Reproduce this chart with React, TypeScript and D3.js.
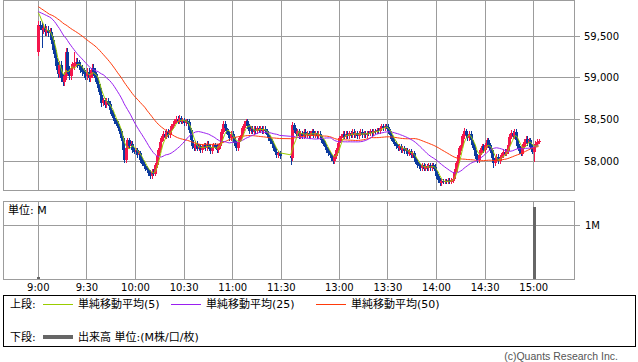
import React from "react";
import * as d3 from "d3";

// ---- data ----
const timeTicks = ["9:00", "9:30", "10:00", "10:30", "11:00", "11:30", "13:00", "13:30", "14:00", "14:30", "15:00"];
const priceTicks = [58000, 58500, 59000, 59500];
const volumeTicks = [1];

// closes of the previous session (feed the moving averages only)
const prevCloses = [
  60260, 60240, 60250, 60220, 60230, 60210, 60220,
  59800, 59780, 59770, 59790, 59810, 59800, 59780, 59770, 59790, 59800, 59790, 59780, 59800, 59790, 59780, 59790, 59800, 59790,
  59790, 59800, 59810, 59800, 59790, 59780, 59790, 59800, 59790, 59780, 59790, 59800, 59810, 59800, 59790, 59780, 59790, 59800, 59790, 59780,
  59810, 59820, 59815, 59825,
];

const firstOpen = 59310;

// 1-minute closes, 9:00 - 11:29
const closeAM = [
  59630, 59620, 59570, 59595, 59550, 59570, 59535, 59550, 59450, 59330,
  59235, 59140, 59045, 59150, 58995, 58950, 59020, 59310, 59090, 59020,
  59115, 59140, 59175, 59190, 59165, 59140, 59105, 59070, 59045, 59020,
  59070, 58995, 59045, 59115, 59070, 58995, 58925, 58875, 58790, 58695,
  58730, 58670, 58720, 58685, 58610, 58565, 58515, 58480, 58445, 58395,
  58360, 58275, 58130, 58010, 58155, 58250, 58180, 58205, 58130, 58110,
  58130, 58070, 58095, 58010, 57965, 57940, 57915, 57890, 57855, 57820,
  57870, 57845, 57950, 58060, 58130, 58230, 58275, 58325, 58290, 58350,
  58310, 58370, 58420, 58445, 58470, 58505, 58480, 58515, 58470, 58490,
  58455, 58480, 58470, 58370, 58250, 58180, 58155, 58205, 58145, 58180,
  58130, 58170, 58190, 58155, 58205, 58170, 58120, 58155, 58190, 58170,
  58130, 58180, 58215, 58350, 58445, 58395, 58360, 58310, 58275, 58325,
  58290, 58215, 58155, 58230, 58275, 58310, 58395, 58445, 58480, 58420,
  58360, 58385, 58350, 58385, 58360, 58395, 58370, 58395, 58360, 58385,
  58360, 58310, 58275, 58240, 58205, 58155, 58110, 58070, 58095, 58060,
];

// 1-minute closes, 12:30 onwards
const closePM = [
  58035, 58430, 58370, 58325, 58360, 58300, 58335, 58300, 58350, 58310,
  58335, 58300, 58325, 58360, 58310, 58335, 58300, 58325, 58300, 58250,
  58205, 58170, 58130, 58095, 58070, 58035, 58000, 58060, 58130, 58215,
  58275, 58300, 58325, 58290, 58325, 58300, 58335, 58310, 58350, 58310,
  58335, 58300, 58325, 58350, 58310, 58335, 58310, 58335, 58335, 58360,
  58335, 58360, 58350, 58370, 58360, 58395, 58420, 58395, 58420, 58410,
  58360, 58310, 58265, 58230, 58205, 58180, 58155, 58180, 58130, 58155,
  58120, 58130, 58085, 58120, 58070, 58095, 58035, 57990, 57950, 57940,
  57915, 57950, 57905, 57940, 57915, 57950, 57915, 57950, 57930, 57880,
  57820, 57770, 57735, 57760, 57750, 57760, 57750, 57770, 57750, 57770,
  57785, 57870, 57975, 58070, 58155, 58190, 58300, 58360, 58310, 58275,
  58325, 58250, 58190, 58130, 58060, 58010, 58070, 58130, 58180, 58130,
  58190, 58250, 58190, 58130, 58035, 57975, 58010, 58050, 58000, 58035,
  58070, 58110, 58085, 58120, 58190, 58290, 58335, 58300, 58350, 58250,
  58180, 58120, 58085, 58170, 58230, 58265, 58215, 58250, 58170, 58110,
  58170, 58205, 58230, 58240,
];

// visible spikes: [minute index, high, low]
const wicksAM = [
  [0, 59640, 59300], [2, 59600, 59355], [17, 59330, 59010], [22, 59310, 59140],
  [53, 58130, 57975], [69, 57890, 57800], [87, 58550, 58470], [114, 58480, 58350], [128, 58505, 58420],
];
const wicksPM = [
  [0, 58070, 57950], [1, 58470, 58030], [26, 58040, 57975], [92, 57770, 57700],
  [107, 58395, 58290], [125, 58040, 57915], [136, 58370, 58290], [150, 58180, 57990],
];
// typical shadow length (yen) by stretch: [from minute, to minute, shadow]
const shadowAM = [[0, 39, 45], [40, 149, 30]];
const shadowPM = [[0, 153, 30]];

const volumeTimes = ["9:00", "15:00"];
const volumeValues = [0.03, 1.36]; // in M

const maPeriods = [5, 25, 50];
const maLabels = ["単純移動平均(5)", "単純移動平均(25)", "単純移動平均(50)"];

// ---- layout ----
const W = 638, H = 362;
const L = 3.5, R = 574.5;
const MT = 0.5, MB = 190.5;
const VT = 201.5, VB = 279.5;
const PM_SLOT = 155.8; // position of 12:30 on the minute axis
const COLORS = { up: "#f4164c", down: "#0b3a9e", ma: ["#99cc00", "#9a1ff0", "#ff3a0a"], grid: "#9c9c9c", vol: "#666666" };
const FONT = "'DejaVu Sans', 'Noto Sans CJK JP', sans-serif";

function slotOf(t: string) {
  const [h, m] = t.split(":").map(Number);
  const mins = h * 60 + m;
  return mins < 720 ? mins - 540 : PM_SLOT + mins - 750;
}

const x = d3.scaleLinear().domain([0, 150]).range([38.3, 281.3]);
const y = d3.scaleLinear().domain([57652, 59932]).range([190, 0]);
const yv = d3.scaleLinear().domain([0, 1.47]).range([279, 201]);

type Candle = { slot: number; o: number; c: number; h: number; l: number };

function buildCandles(): Candle[] {
  const out: Candle[] = [];
  let prev = firstOpen;
  const add = (closes: number[], wicks: number[][], shadows: number[][], base: number) => {
    closes.forEach((c, i) => {
      const o = prev;
      const w = wicks.find((k) => k[0] === i);
      const s = shadows.find((k) => i >= k[0] && i <= k[1]);
      const sh = s ? s[2] : 0;
      const h = Math.max(Math.max(o, c) + sh, w ? w[1] : -Infinity);
      const l = Math.min(Math.min(o, c) - sh, w ? w[2] : Infinity);
      out.push({ slot: base + i, o, c, h, l });
      prev = c;
    });
  };
  add(closeAM, wicksAM, shadowAM, 0);
  add(closePM, wicksPM, shadowPM, PM_SLOT);
  return out;
}

export default function App() {
  const candles = buildCandles();
  const all = [...prevCloses, ...closeAM, ...closePM];
  const off = prevCloses.length;
  const maSeries = maPeriods.map((n) =>
    candles.map((d, i) => {
      const j = i + off;
      return { slot: d.slot, v: d3.mean(all.slice(j - n + 1, j + 1)) as number };
    })
  );
  const line = d3
    .line<{ slot: number; v: number }>()
    .x((d) => x(d.slot))
    .y((d) => y(d.v));

  const snap = (v: number) => Math.round(v - 0.5) + 0.5;

  return (
    <svg width={W} height={H} style={{ position: "absolute", left: 0, top: 0, background: "#fff" }} fontFamily={FONT}>
      <rect x={0} y={0} width={W} height={H} fill="#fff" />
      {/* main panel grid */}
      {timeTicks.map((t) => (
        <line key={"vg" + t} x1={snap(x(slotOf(t)))} x2={snap(x(slotOf(t)))} y1={MT} y2={MB} stroke={COLORS.grid} />
      ))}
      {priceTicks.map((p) => (
        <g key={"pg" + p}>
          <line x1={L} x2={580} y1={snap(y(p))} y2={snap(y(p))} stroke={COLORS.grid} />
          <text x={584} y={snap(y(p))} dy="0.35em" fontSize={10} fill="#000">
            {d3.format(",")(p)}
          </text>
        </g>
      ))}
      <rect x={L} y={MT} width={R - L} height={MB - MT} fill="none" stroke={COLORS.grid} />

      {/* candles */}
      <g shapeRendering="crispEdges">
        {candles.map((d, i) => {
          const up = d.c > d.o;
          const col = up ? COLORS.up : COLORS.down;
          const cx = Math.round(x(d.slot));
          const top = Math.round(y(Math.max(d.o, d.c)));
          const bot = Math.round(y(Math.min(d.o, d.c)));
          return (
            <g key={"c" + i}>
              <rect x={cx} y={Math.round(y(d.h))} width={1} height={Math.max(1, Math.round(y(d.l)) - Math.round(y(d.h)))} fill={col} />
              <rect x={cx - 1} y={top} width={3} height={Math.max(1, bot - top)} fill={col} />
            </g>
          );
        })}
      </g>

      {/* moving averages */}
      {[2, 1, 0].map((k) => (
        <path key={"ma" + k} d={line(maSeries[k]) || ""} fill="none" stroke={COLORS.ma[k]} strokeWidth={1} />
      ))}

      {/* volume panel */}
      {timeTicks.map((t) => (
        <line key={"vv" + t} x1={snap(x(slotOf(t)))} x2={snap(x(slotOf(t)))} y1={VT} y2={VB} stroke={COLORS.grid} />
      ))}
      {volumeTicks.map((v) => (
        <g key={"vt" + v}>
          <line x1={L} x2={580} y1={snap(yv(v))} y2={snap(yv(v))} stroke={COLORS.grid} />
          <text x={585} y={snap(yv(v))} dy="0.35em" fontSize={10} fill="#000">
            {v + "M"}
          </text>
        </g>
      ))}
      <rect x={L} y={VT} width={R - L} height={VB - VT} fill="none" stroke={COLORS.grid} />
      {volumeTimes.map((t, i) => (
        <rect key={"vb" + t} x={Math.round(x(slotOf(t))) - 1} y={yv(volumeValues[i])} width={3} height={yv(0) - yv(volumeValues[i])} fill={COLORS.vol} shapeRendering="crispEdges" />
      ))}
      <text x={8} y={214} fontSize={11} fill="#000">単位: M</text>

      {/* time axis labels */}
      {timeTicks.map((t) => (
        <text key={"tl" + t} x={x(slotOf(t))} y={291} textAnchor="middle" fontSize={10} fill="#000">
          {t}
        </text>
      ))}

      {/* legend */}
      <rect x={3.5} y={295.5} width={632} height={51} fill="#fff" stroke="#000" />
      <text x={10} y={308} fontSize={11} fill="#000">上段:</text>
      {[43, 171, 316].map((lx, k) => (
        <g key={"lg" + k}>
          <line x1={lx} x2={lx + 30} y1={304.5} y2={304.5} stroke={COLORS.ma[k]} strokeWidth={1} />
          <text x={lx + 35} y={308} fontSize={11} fill="#000">{maLabels[k]}</text>
        </g>
      ))}
      <text x={10} y={341} fontSize={11} fill="#000">下段:</text>
      <line x1={43} x2={73} y1={337} y2={337} stroke={COLORS.vol} strokeWidth={4} />
      <text x={78} y={341} fontSize={11} fill="#000">出来高 単位:(M株/口/枚)</text>

      <text x={618} y={360} textAnchor="end" fontSize={10.5} fill="#555" fontFamily="'Liberation Sans', Arial, sans-serif">
        (c)Quants Research Inc.
      </text>
    </svg>
  );
}
